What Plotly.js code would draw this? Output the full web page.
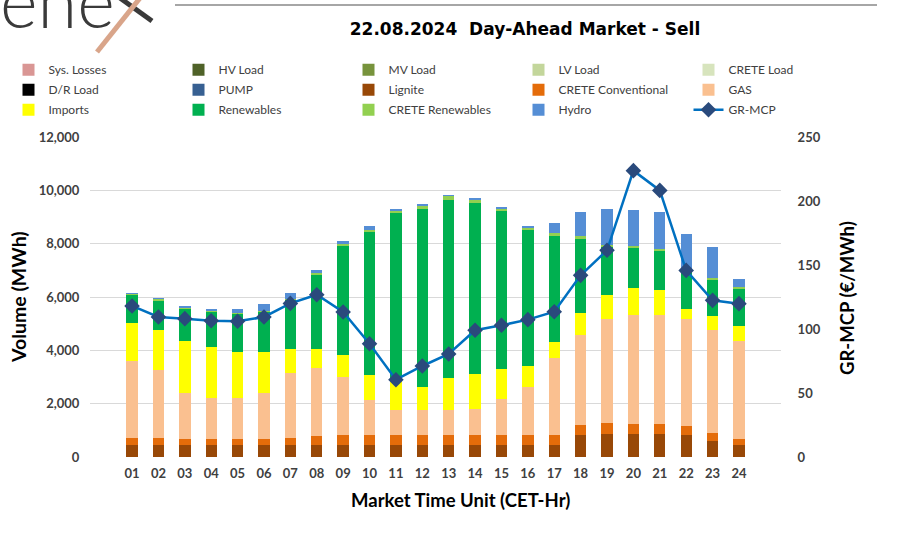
<!DOCTYPE html>
<html>
<head>
<meta charset="utf-8">
<script src="https://cdn.plot.ly/plotly-3.0.1.min.js"></script>
<style>html,body{margin:0;padding:0;background:#fff;}#chart{width:901px;height:536px;}</style>
</head>
<body>
<div id="chart"></div>
<script>
const hours = ["01","02","03","04","05","06","07","08","09","10","11","12","13","14","15","16","17","18","19","20","21","22","23","24"];
const zeros = hours.map(() => 0);
const sysLosses = zeros, hvLoad = zeros, mvLoad = zeros, lvLoad = zeros, creteLoad = zeros, drLoad = zeros, pump = zeros;
const lignite = [437,437,437,437,437,437,437,437,437,437,437,437,437,437,437,437,437,812,862,862,862,837,612,437];
const creteConv = [288,263,238,225,225,225,288,338,375,375,375,375,375,375,375,375,375,388,400,388,375,338,288,225];
const gas = [2862,2550,1712,1550,1550,1725,2412,2575,2188,1313,938,938,938,1000,1363,1800,2913,3362,3900,4062,4075,3987,3850,3675];
const imports = [1438,1500,1963,1913,1713,1563,900,700,812,950,1150,875,1225,1288,1125,788,575,838,900,1013,938,375,525,575];
const renewables = [1050,1112,1212,1312,1437,1500,1838,2787,4100,5362,6250,6675,6675,6425,5912,5100,4000,2787,1813,1512,1462,1413,1375,1375];
const creteRen = [50,50,38,38,25,25,37,50,63,75,75,100,125,112,100,100,100,88,87,75,88,40,62,75];
const hydro = [37,50,50,62,163,275,250,125,137,150,87,100,62,75,75,75,375,912,1350,1363,1387,1385,1150,325];
const grMcp = [118.0,109.4,108.1,106.5,106.0,109.4,120.0,126.8,113.3,88.5,60.4,71.1,80.5,99.0,102.9,107.3,113.5,141.9,161.5,223.7,208.3,145.8,122.4,119.8];

// [name, values, colour, legend column]
const barSeries = [
  ["Sys. Losses", sysLosses, "#d99694", "legend"],
  ["HV Load", hvLoad, "#4f6228", "legend2"],
  ["MV Load", mvLoad, "#77933c", "legend3"],
  ["LV Load", lvLoad, "#c3d69b", "legend4"],
  ["CRETE Load", creteLoad, "#d7e4bd", "legend5"],
  ["D/R Load", drLoad, "#000000", "legend"],
  ["PUMP", pump, "#376092", "legend2"],
  ["Lignite", lignite, "#984807", "legend3"],
  ["CRETE Conventional", creteConv, "#e46c0a", "legend4"],
  ["GAS", gas, "#fac090", "legend5"],
  ["Imports", imports, "#ffff00", "legend"],
  ["Renewables", renewables, "#00b050", "legend2"],
  ["CRETE Renewables", creteRen, "#92d050", "legend3"],
  ["Hydro", hydro, "#558ed5", "legend4"]
];

const FONT = "Lato, 'Open Sans', sans-serif";
const traces = barSeries.map(([name, vals, color, leg]) => ({
  type: "bar", name: name, x: hours, y: vals, legend: leg, legendgroup: name,
  marker: {color: color, line: {width: 0}}, yaxis: "y", hoverinfo: "none"
}));
traces.push({
  type: "scatter", mode: "lines+markers", name: "GR-MCP", x: hours, y: grMcp, yaxis: "y2", legend: "legend5", legendgroup: "GR-MCP",
  line: {color: "#0070c0", width: 2.5},
  marker: {symbol: "diamond", size: 12, color: "#2a4a7c", line: {width: 0}}
});

function legendAt(px) {
  return {orientation: "v", xref: "container", yref: "container", x: px / 901, y: 0.897, xanchor: "left", yanchor: "top",
    font: {family: FONT, size: 12, color: "#404040"}, traceorder: "grouped", tracegroupgap: 1, itemwidth: 30, bgcolor: "rgba(0,0,0,0)", borderwidth: 0};
}

const PL = 90, PT = 137, PW = 691, PH = 320;
const px2x = p => (p - PL) / PW;
const py2y = p => (PT + PH - p) / PH;
const CLEAR = "rgba(0,0,0,0)";

const layout = {
  width: 901, height: 536,
  margin: {l: 90, r: 120, t: 137, b: 79, autoexpand: false},
  paper_bgcolor: "#ffffff", plot_bgcolor: "#ffffff",
  font: {family: FONT, color: "#404040", size: 12},
  barmode: "stack", bargap: 0.57,
  showlegend: true,
  title: {text: "<b>22.08.2024  Day-Ahead Market - Sell</b>", font: {family: "'DejaVu Sans', sans-serif", size: 17, color: "#000000"}, x: 525/901, xanchor: "center", y: 1 - 29/536, yanchor: "middle"},
  legend: legendAt(8.5), legend2: legendAt(178.5), legend3: legendAt(348.5), legend4: legendAt(518.5), legend5: legendAt(688.5),
  xaxis: {type: "category", automargin: true, tickfont: {family: FONT, size: 13, color: "#404040", weight: "bold"}, showgrid: false, zeroline: false, showline: false,
    ticks: "outside", ticklen: 4, tickcolor: CLEAR},
  yaxis: {range: [0, 12000], dtick: 2000, tickformat: ",", automargin: true, gridcolor: "#d9d9d9", gridwidth: 1, zeroline: false, showline: false,
    ticks: "outside", ticklen: 7, tickcolor: CLEAR,
    tickfont: {family: FONT, size: 13, color: "#404040", weight: "bold"}},
  yaxis2: {range: [0, 250], dtick: 50, overlaying: "y", side: "right", automargin: true, showgrid: false, zeroline: false, showline: false,
    ticks: "outside", ticklen: 13, tickcolor: CLEAR,
    tickfont: {family: FONT, size: 13, color: "#404040", weight: "bold"}},
  annotations: [
    {text: "ene", xref: "paper", yref: "paper", x: px2x(-2), y: py2y(45), xanchor: "left", yanchor: "bottom", showarrow: false,
      font: {family: FONT, size: 72, color: "#3a3a3a", weight: 300}},
    {text: "<b>Volume (MWh)</b>", xref: "paper", yref: "paper", x: px2x(18), y: py2y(297), xanchor: "center", yanchor: "middle", textangle: -90, showarrow: false,
      font: {family: FONT, size: 19.5, color: "#000000"}},
    {text: "<b>GR-MCP (€/MWh)</b>", xref: "paper", yref: "paper", x: px2x(847), y: py2y(298), xanchor: "center", yanchor: "middle", textangle: -90, showarrow: false,
      font: {family: FONT, size: 18.5, color: "#000000"}},
    {text: "<b>Market Time Unit (CET-Hr)</b>", xref: "paper", yref: "paper", x: px2x(460), y: py2y(500), xanchor: "center", yanchor: "middle", showarrow: false,
      font: {family: FONT, size: 18.5, color: "#000000"}}
  ],
  shapes: [
    {type: "line", xref: "paper", yref: "paper", x0: px2x(175), x1: px2x(877), y0: py2y(5), y1: py2y(5), line: {color: "#a6a6a6", width: 2}},
    {type: "line", xref: "paper", yref: "paper", x0: px2x(120), x1: px2x(152), y0: py2y(-2), y1: py2y(21), line: {color: "#3a3a3a", width: 5}},
    {type: "line", xref: "paper", yref: "paper", x0: px2x(97), x1: px2x(140), y0: py2y(52), y1: py2y(-2), line: {color: "#d9a58a", width: 5}}
  ]
};

Plotly.newPlot("chart", traces, layout, {displayModeBar: false, staticPlot: true});
</script>
</body>
</html>
